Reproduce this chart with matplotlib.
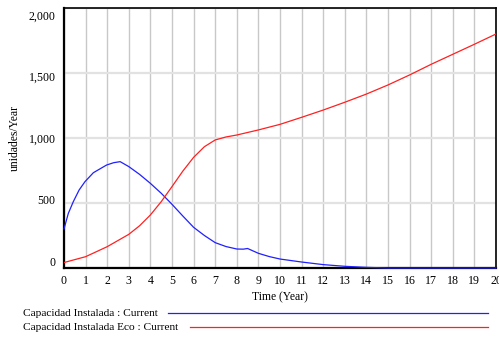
import matplotlib
matplotlib.use('Agg')
import matplotlib.pyplot as plt
import matplotlib.transforms as mtransforms
from matplotlib.ticker import FuncFormatter

plt.rcParams['font.family'] = ['Liberation Serif', 'DejaVu Serif']

# Data (Vensim style output)
t_blue = [0, 0.2, 0.43, 0.7, 0.97, 1.36, 1.97, 2.3, 2.6, 3, 3.5, 4, 4.5, 5, 5.5,
          6, 6.5, 7, 7.5, 8, 8.3, 8.5, 9, 9.5, 10, 11, 12, 13, 14, 15, 16, 17,
          18, 19, 20]
cap_instalada = [300, 420, 510, 600, 664, 733, 792, 810, 818, 780, 720, 651, 575,
                 490, 400, 313, 250, 195, 165, 146, 145, 150, 113, 88, 69, 46,
                 26, 13, 5, 0, 0, 0, 0, 0, 0]

t_red = [0, 1, 2, 3, 3.5, 4, 4.5, 5, 5.5, 6, 6.5, 7, 7.5, 8, 9, 10, 11, 12, 13,
         14, 15, 16, 17, 18, 19, 20]
cap_instalada_eco = [42, 87, 164, 259, 325, 408, 510, 626, 745, 851, 933, 985,
                     1008, 1023, 1062, 1105, 1159, 1215, 1275, 1338, 1408, 1485,
                     1567, 1644, 1721, 1800]

label_blue = 'Capacidad Instalada : Current'
label_red = 'Capacidad Instalada Eco : Current'

fig = plt.figure(figsize=(4.99, 3.37), dpi=100)
ax = fig.add_axes([64/499, 69/337, 432/499, 260/337])

ax.plot(t_blue, cap_instalada, color='#2020ff', lw=0.9, zorder=5, clip_on=False)
ax.plot(t_red, cap_instalada_eco, color='#ff2020', lw=0.9, zorder=5)

ax.set_xlim(0, 20)
ax.set_ylim(0, 2000)
ax.set_xticks(range(0, 21))
ax.set_yticks([0, 500, 1000, 1500, 2000])
ax.yaxis.set_major_formatter(FuncFormatter(lambda v, p: '{:,.0f}'.format(v)))

ax.xaxis.grid(True, color='#c8c8c8', lw=1.0)
ax.yaxis.grid(True, color='#e2e2e2', lw=1.6)
ax.set_axisbelow(True)

for side in ['left', 'bottom']:
    ax.spines[side].set_linewidth(1.6)
for side in ['top', 'right']:
    ax.spines[side].set_linewidth(1.2)

ax.tick_params(length=0, labelsize=8.6)
ax.tick_params(axis='x', pad=5)
ax.tick_params(axis='y', pad=6)
ax.set_xlabel('Time (Year)', fontsize=8.4, labelpad=3)
ax.set_ylabel('unidades/Year', fontsize=8.4)
ax.yaxis.set_label_coords(-0.100, 0.5)

# Vensim spreads y labels inside the range (0 sits above the axis, 2,000 below the top)
fig.canvas.draw()
shifts = [6, 3, 0, -3, -7]
for lab, dy in zip(ax.get_yticklabels(), shifts):
    lab.set_transform(lab.get_transform() + mtransforms.ScaledTranslation(0, dy/100, fig.dpi_scale_trans))

# legend drawn Vensim style below the chart
fig.text(23/499, 1 - 313/337, label_blue, fontsize=8.2, va='center', ha='left')
fig.text(23/499, 1 - 327/337, label_red, fontsize=8.2, va='center', ha='left')
fig.add_artist(plt.Line2D([168/499, 488/499], [1 - 313/337] * 2, color='#2020ff', lw=0.9))
fig.add_artist(plt.Line2D([190/499, 488/499], [1 - 327/337] * 2, color='#ff2020', lw=0.9))

fig.savefig('out.png', dpi=100)
